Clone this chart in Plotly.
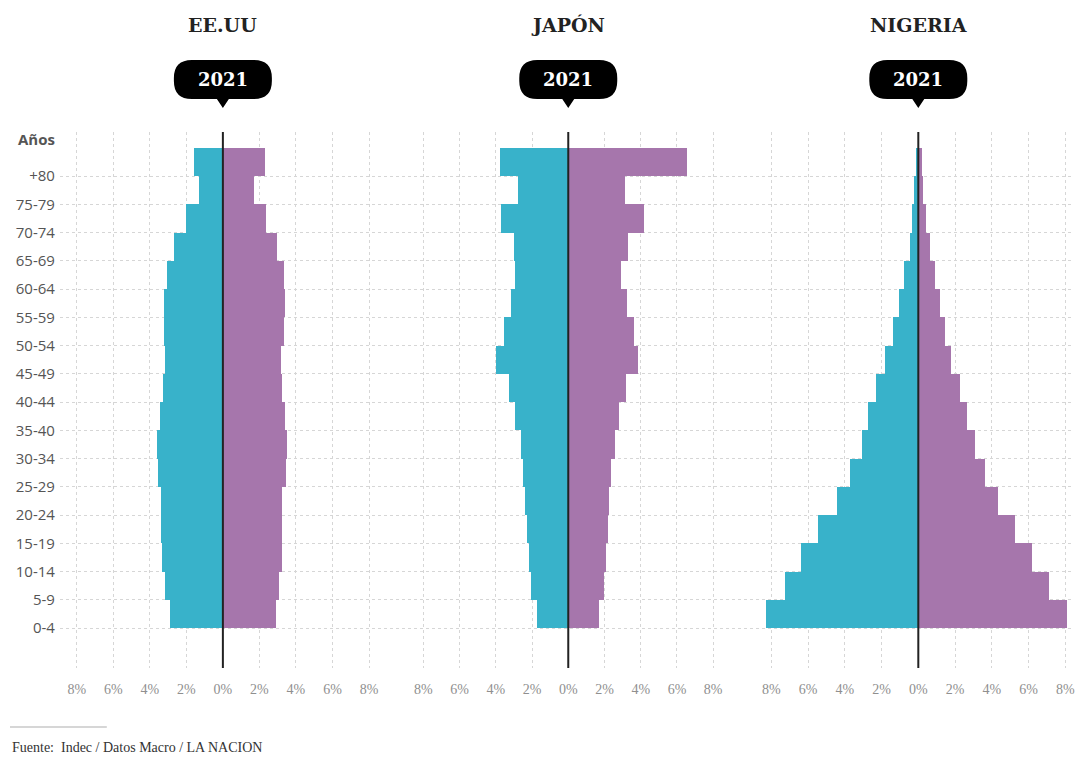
import plotly.graph_objects as go

# ---------------- data ----------------
ages = ["0-4", "5-9", "10-14", "15-19", "20-24", "25-29", "30-34", "35-40", "40-44",
        "45-49", "50-54", "55-59", "60-64", "65-69", "70-74", "75-79", "+80"]

usa_left = [2.91, 3.15, 3.33, 3.39, 3.39, 3.55, 3.61, 3.46, 3.28, 3.15, 3.24, 3.24, 3.09, 2.69, 2.00, 1.33, 1.58]
usa_right = [2.88, 3.06, 3.25, 3.25, 3.25, 3.43, 3.50, 3.41, 3.25, 3.19, 3.32, 3.39, 3.32, 2.95, 2.37, 1.68, 2.32]

jpn_left = [1.71, 2.02, 2.17, 2.26, 2.39, 2.50, 2.62, 2.94, 3.27, 3.97, 3.54, 3.17, 2.90, 2.99, 3.69, 2.75, 3.76]
jpn_right = [1.69, 1.97, 2.09, 2.20, 2.28, 2.39, 2.57, 2.83, 3.22, 3.86, 3.62, 3.25, 2.94, 3.29, 4.17, 3.16, 6.56]

nga_left = [8.30, 7.28, 6.43, 5.47, 4.44, 3.75, 3.08, 2.75, 2.35, 1.83, 1.41, 1.05, 0.78, 0.50, 0.36, 0.23, 0.15]
nga_right = [8.06, 7.07, 6.16, 5.25, 4.31, 3.59, 3.04, 2.63, 2.23, 1.76, 1.45, 1.18, 0.91, 0.62, 0.40, 0.25, 0.20]

countries = ["EE.UU", "JAPÓN", "NIGERIA"]
year_label = "2021"
tick_vals = [-8, -6, -4, -2, 0, 2, 4, 6, 8]
tick_text = ["8%", "6%", "4%", "2%", "0%", "2%", "4%", "6%", "8%"]
source = "Fuente:  Indec / Datos Macro / LA NACION"

# ---------------- style ----------------
W, H = 1086, 758
TEAL = "#38b2ca"
PURPLE = "#a676ac"
GRID = "#d6d6d6"
DARK = "#222222"

def px_x(p):
    return p / W

def px_y(p):
    return (H - p) / H

y_dom = [px_y(668), px_y(132)]
domains = [[px_x(60), px_x(397)], [px_x(397), px_x(745)], [px_x(745), px_x(1075)]]
ranges = [[-8.923, 9.492], [-9.493, 9.680], [-9.511, 8.424]]
axes = ["x", "x2", "x3"]

idx = list(range(len(ages)))
series = [(usa_left, usa_right), (jpn_left, jpn_right), (nga_left, nga_right)]

fig = go.Figure()
for (left, right), xa in zip(series, axes):
    fig.add_trace(go.Bar(y=idx, x=[-v for v in left], base=0, orientation="h", width=1, offset=0,
                         marker=dict(color=TEAL, line=dict(width=0)), xaxis=xa, yaxis="y",
                         showlegend=False, hoverinfo="skip"))
    fig.add_trace(go.Bar(y=idx, x=right, base=0, orientation="h", width=1, offset=0,
                         marker=dict(color=PURPLE, line=dict(width=0)), xaxis=xa, yaxis="y",
                         showlegend=False, hoverinfo="skip"))

layout = dict(
    width=W, height=H,
    margin=dict(l=0, r=0, t=0, b=0),
    paper_bgcolor="white", plot_bgcolor="white",
    barmode="overlay", bargap=0,
    yaxis=dict(domain=y_dom, range=[-1.416, 17.56], tickmode="array", tickvals=idx, ticktext=ages,
               showgrid=True, gridcolor=GRID, griddash="dot", gridwidth=1, zeroline=False,
               showline=False, ticks="", anchor="x", ticklabelstandoff=4,
               tickfont=dict(family="Open Sans", size=15, color="#555555")),
)
for i, (xa, dom, rng) in enumerate(zip(axes, domains, ranges)):
    key = "xaxis" if i == 0 else f"xaxis{i+1}"
    layout[key] = dict(domain=dom, range=rng, tickmode="array", tickvals=tick_vals, ticktext=tick_text,
                       showgrid=True, gridcolor=GRID, griddash="dot", gridwidth=1, zeroline=False,
                       showline=False, ticks="", anchor="y", ticklabelstandoff=11,
                       tickfont=dict(family="Liberation Serif", size=14, color="#8f8f8f"))
fig.update_layout(**layout)

shapes = []
annotations = []
hw, hh, r = 49, 19.5, 18
pill = (f"M {-hw+r},{-hh} L -6,{-hh} L 0,{-hh-9} L 6,{-hh} L {hw-r},{-hh} "
        f"Q {hw},{-hh} {hw},{-hh+r} L {hw},{hh-r} Q {hw},{hh} {hw-r},{hh} "
        f"L {-hw+r},{hh} Q {-hw},{hh} {-hw},{hh-r} L {-hw},{-hh+r} Q {-hw},{-hh} {-hw+r},{-hh} Z")
badge_y = px_y(79.5)
for xa, name in zip(axes, countries):
    shapes.append(dict(type="line", xref=xa, yref="y domain", x0=0, x1=0, y0=0, y1=1,
                       line=dict(color=DARK, width=2), layer="above"))
    shapes.append(dict(type="path", xref=xa, yref="paper", xsizemode="pixel", ysizemode="pixel",
                       xanchor=0, yanchor=badge_y, path=pill, fillcolor="black",
                       line=dict(width=0), layer="above"))
    annotations.append(dict(xref=xa, yref="paper", x=0, y=badge_y, text=f"<b>{year_label}</b>",
                            showarrow=False, xanchor="center", yanchor="middle",
                            font=dict(family="DejaVu Serif", size=18, color="white")))
    annotations.append(dict(xref=xa, yref="paper", x=0, y=px_y(25), text=f"<b>{name}</b>",
                            showarrow=False, xanchor="center", yanchor="middle",
                            font=dict(family="DejaVu Serif", size=19, color="#222222")))

annotations.append(dict(xref="paper", yref="y", x=px_x(57), y=17.31, text="<b>Años</b>",
                        showarrow=False, xanchor="right", yanchor="middle",
                        font=dict(family="Open Sans", size=15, color="#555555")))
shapes.append(dict(type="line", xref="paper", yref="paper", x0=px_x(10), x1=px_x(107),
                   y0=px_y(727), y1=px_y(727), line=dict(color="#c8c8c8", width=1.5)))
annotations.append(dict(xref="paper", yref="paper", x=px_x(10), y=px_y(747), text=source,
                        showarrow=False, xanchor="left", yanchor="middle",
                        font=dict(family="Liberation Serif", size=14, color="#333333")))

fig.update_layout(shapes=shapes, annotations=annotations)
fig.write_html("out.html")
